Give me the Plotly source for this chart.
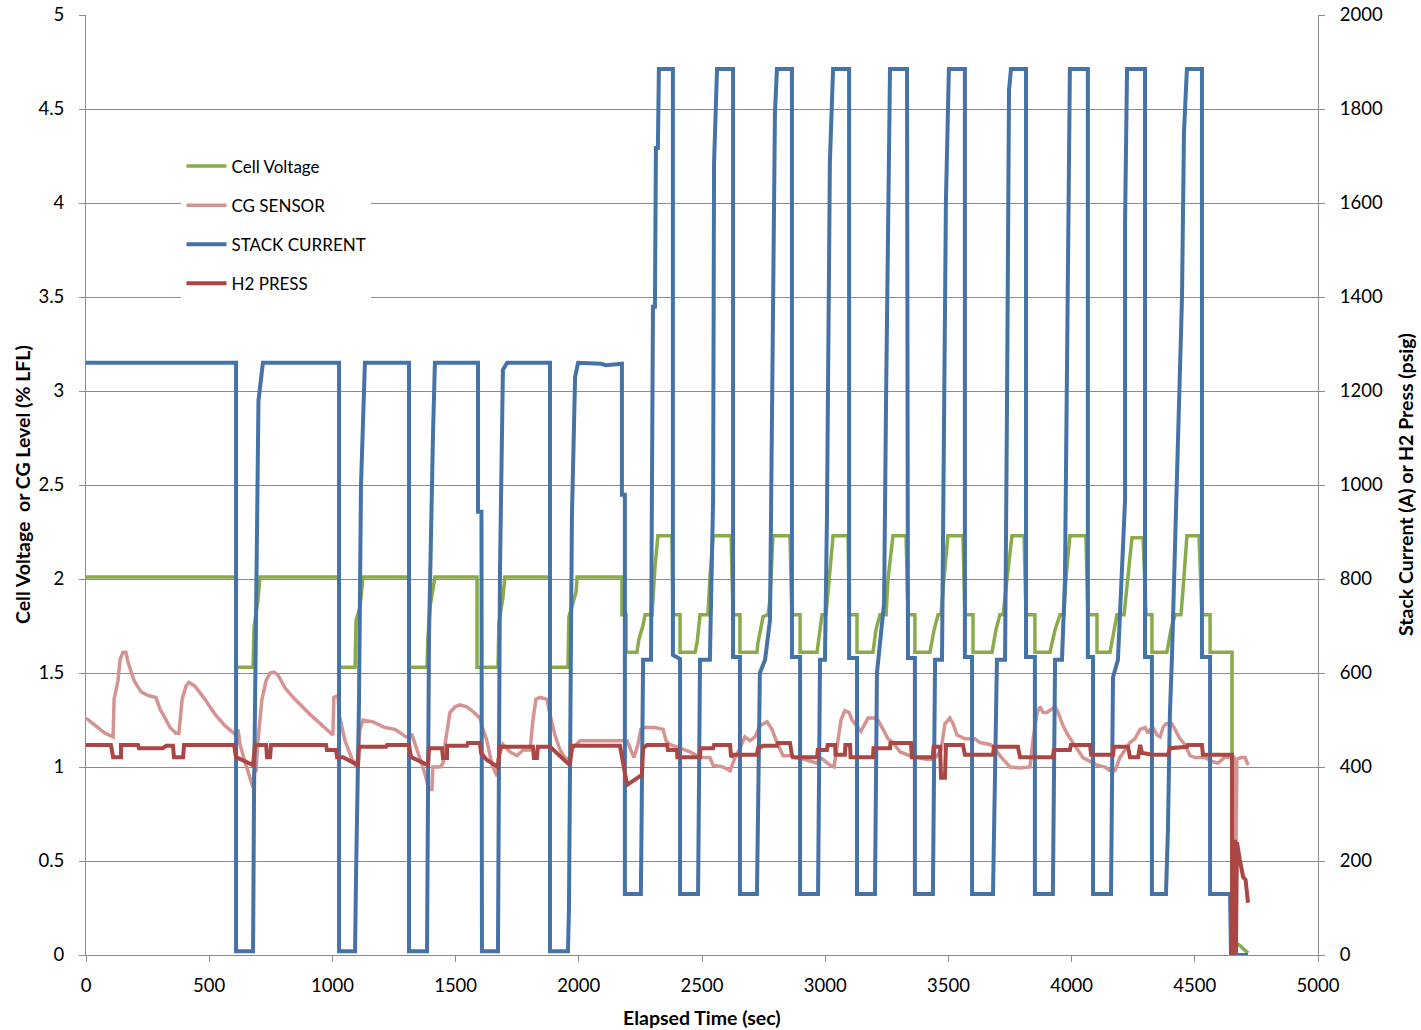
import plotly.graph_objects as go

# ---------------- data ----------------
# Cell Voltage (left axis, V)
voltage_points = [
    (0, 2.01), (609, 2.01), (609, 1.53), (678, 1.53), (682, 1.745), (698, 1.89), (706, 2.01),
    (1027, 2.01), (1027, 1.53), (1092, 1.53), (1096, 1.78), (1112, 1.85), (1124, 2.01),
    (1311, 2.01), (1311, 1.53), (1384, 1.53), (1388, 1.69), (1396, 1.85), (1416, 2.01),
    (1587, 2.01), (1587, 1.53), (1672, 1.53), (1676, 1.77), (1692, 1.90), (1700, 2.01),
    (1883, 2.01), (1883, 1.53), (1956, 1.53), (1960, 1.80), (1989, 1.93), (1993, 2.01),
    (2175, 2.01), (2175, 1.81), (2192, 1.81), (2192, 1.61),
    (2236, 1.61), (2244, 1.68), (2261, 1.755), (2269, 1.81), (2297, 1.81), (2309, 2.06), (2321, 2.23),
    (2378, 2.23), (2382, 1.81), (2411, 1.81), (2411, 1.61),
    (2472, 1.61), (2480, 1.66), (2492, 1.81), (2524, 1.81), (2532, 2.00), (2545, 2.23),
    (2618, 2.23), (2626, 1.81), (2654, 1.81), (2654, 1.61),
    (2723, 1.61), (2727, 1.66), (2748, 1.80), (2768, 1.81), (2776, 1.89), (2788, 2.23),
    (2857, 2.23), (2865, 1.81), (2898, 1.81), (2898, 1.61),
    (2967, 1.61), (2975, 1.70), (2987, 1.81), (3003, 1.81), (3011, 1.94), (3032, 2.23),
    (3093, 2.23), (3097, 1.81), (3129, 1.81), (3129, 1.61),
    (3194, 1.61), (3206, 1.73), (3222, 1.81), (3247, 1.81), (3255, 2.00), (3275, 2.23),
    (3328, 2.23), (3336, 1.81), (3364, 1.81), (3364, 1.61),
    (3425, 1.61), (3442, 1.73), (3458, 1.81), (3470, 1.81), (3482, 2.00), (3498, 2.23),
    (3559, 2.23), (3567, 1.81), (3600, 1.81), (3600, 1.61),
    (3677, 1.61), (3693, 1.73), (3709, 1.81), (3722, 1.81), (3738, 2.00), (3758, 2.23),
    (3807, 2.23), (3815, 1.81), (3851, 1.81), (3851, 1.61),
    (3912, 1.61), (3933, 1.73), (3953, 1.81), (3969, 1.81), (3977, 2.00), (3993, 2.23),
    (4058, 2.23), (4066, 1.81), (4103, 1.81), (4103, 1.61),
    (4156, 1.61), (4172, 1.73), (4184, 1.81), (4213, 1.81), (4229, 2.00), (4245, 2.22),
    (4290, 2.22), (4302, 1.81), (4326, 1.81), (4326, 1.61),
    (4387, 1.61), (4403, 1.73), (4420, 1.81), (4444, 1.81), (4452, 1.94), (4468, 2.23),
    (4517, 2.23), (4529, 1.81), (4562, 1.81), (4562, 1.61), (4651, 1.61),
    (4651, 0.08), (4683, 0.05), (4716, 0.01),
]

# CG SENSOR (left axis, % LFL)
cg_points = [
    (0, 1.26), (37, 1.22), (77, 1.18), (110, 1.16), (114, 1.36), (130, 1.46), (138, 1.57), (150, 1.61),
    (162, 1.61), (170, 1.56), (195, 1.46), (223, 1.40), (252, 1.38), (284, 1.37), (300, 1.31),
    (325, 1.25), (341, 1.21), (365, 1.18), (377, 1.18), (390, 1.36), (406, 1.43), (418, 1.45),
    (442, 1.43), (483, 1.36), (524, 1.28), (564, 1.22), (597, 1.18), (609, 1.17), (617, 1.20),
    (625, 1.12), (649, 1.01), (678, 0.89), (682, 0.97), (690, 0.98), (698, 1.14), (714, 1.36),
    (731, 1.46), (747, 1.50), (763, 1.505), (779, 1.49), (808, 1.42), (848, 1.36), (909, 1.28),
    (970, 1.21), (1002, 1.17), (1006, 1.37), (1023, 1.38), (1027, 1.28), (1051, 1.14), (1080, 1.04),
    (1096, 1.00), (1104, 1.06), (1112, 1.20), (1124, 1.25), (1165, 1.24), (1213, 1.21), (1254, 1.20),
    (1299, 1.16), (1323, 1.17), (1331, 1.14), (1351, 1.06), (1372, 0.98), (1392, 0.88), (1404, 0.88),
    (1408, 1.00), (1437, 1.00), (1449, 1.02), (1457, 1.12), (1477, 1.29), (1498, 1.32), (1518, 1.33),
    (1546, 1.32), (1575, 1.29), (1599, 1.26), (1611, 1.20), (1627, 1.14), (1648, 1.01), (1668, 0.95),
    (1672, 1.04), (1692, 1.12), (1721, 1.08), (1749, 1.06), (1774, 1.09), (1802, 1.09), (1814, 1.25),
    (1826, 1.36), (1843, 1.37), (1871, 1.36), (1883, 1.28), (1903, 1.17), (1924, 1.09), (1944, 1.05),
    (1964, 1.04), (1976, 1.10), (2005, 1.14), (2086, 1.14), (2147, 1.14), (2196, 1.14), (2208, 1.10),
    (2224, 1.05), (2240, 1.12), (2252, 1.20), (2269, 1.21), (2309, 1.21), (2342, 1.20), (2354, 1.14),
    (2370, 1.12), (2411, 1.10), (2451, 1.08), (2492, 1.05), (2532, 1.05), (2545, 1.01), (2585, 1.00),
    (2614, 0.98), (2634, 1.05), (2654, 1.10), (2674, 1.16), (2695, 1.14), (2715, 1.16), (2735, 1.22),
    (2764, 1.24), (2784, 1.20), (2804, 1.13), (2829, 1.06), (2857, 1.06), (2877, 1.05), (2918, 1.04),
    (2967, 1.02), (2979, 1.05), (2991, 1.04), (3019, 1.01), (3036, 1.00), (3048, 1.12), (3064, 1.25),
    (3080, 1.30), (3097, 1.29), (3109, 1.25), (3129, 1.22), (3145, 1.19), (3157, 1.22), (3174, 1.26),
    (3198, 1.26), (3214, 1.25), (3235, 1.20), (3255, 1.15), (3275, 1.13), (3304, 1.08), (3344, 1.06),
    (3385, 1.05), (3413, 1.04), (3437, 1.04), (3454, 1.06), (3470, 1.09), (3486, 1.23), (3506, 1.26),
    (3519, 1.23), (3535, 1.17), (3567, 1.15), (3608, 1.15), (3628, 1.13), (3669, 1.12), (3689, 1.10),
    (3709, 1.06), (3730, 1.03), (3750, 1.00), (3791, 0.995), (3831, 1.00), (3843, 1.14), (3860, 1.29),
    (3872, 1.32), (3884, 1.29), (3900, 1.29), (3912, 1.30), (3933, 1.32), (3945, 1.29), (3965, 1.22),
    (3985, 1.17), (4006, 1.13), (4026, 1.09), (4046, 1.05), (4075, 1.03), (4103, 1.01), (4136, 1.00),
    (4156, 0.98), (4176, 0.98), (4196, 1.05), (4217, 1.09), (4237, 1.13), (4257, 1.15), (4278, 1.20),
    (4298, 1.21), (4310, 1.18), (4318, 1.20), (4330, 1.21), (4347, 1.17), (4359, 1.16), (4371, 1.21),
    (4383, 1.23), (4407, 1.23), (4424, 1.19), (4440, 1.15), (4460, 1.12), (4481, 1.06), (4501, 1.05),
    (4542, 1.05), (4570, 1.03), (4594, 1.02), (4619, 1.05), (4643, 1.05), (4659, 1.05), (4667, 0.56),
    (4671, 1.04), (4687, 1.05), (4704, 1.05), (4716, 1.01),
]

# STACK CURRENT (right axis, A)
current_points = [
    (0, 1260), (609, 1260), (609, 8), (678, 8), (682, 345), (690, 800), (700, 1180), (718, 1260),
    (1027, 1260), (1027, 8), (1092, 8), (1096, 170), (1108, 540), (1116, 998), (1132, 1260),
    (1311, 1260), (1311, 8), (1384, 8), (1388, 277), (1392, 677), (1408, 1100), (1416, 1260),
    (1591, 1260), (1591, 943), (1605, 943), (1607, 8), (1672, 8), (1680, 813), (1692, 1245), (1709, 1260),
    (1883, 1260), (1883, 8), (1956, 8), (1960, 96), (1972, 930), (1985, 1230), (1997, 1260),
    (2090, 1258), (2110, 1255), (2150, 1256), (2175, 1258), (2175, 979), (2187, 979), (2187, 130),
    (2252, 130), (2261, 628), (2293, 628), (2301, 1379), (2309, 1379), (2313, 1717), (2321, 1717), (2325, 1885),
    (2382, 1885), (2382, 638), (2411, 630), (2411, 130),
    (2484, 130), (2492, 628), (2532, 628), (2545, 968), (2549, 1685), (2561, 1885),
    (2626, 1885), (2626, 634), (2654, 634), (2654, 130),
    (2723, 130), (2735, 600), (2756, 628), (2776, 713), (2788, 1419), (2796, 1789), (2804, 1885),
    (2865, 1885), (2865, 634), (2898, 634), (2898, 130),
    (2971, 130), (2979, 628), (2999, 628), (3007, 925), (3019, 1687), (3032, 1885),
    (3097, 1885), (3097, 632), (3129, 632), (3129, 130),
    (3202, 130), (3210, 600), (3239, 749), (3247, 1181), (3255, 1560), (3263, 1885),
    (3332, 1885), (3336, 632), (3364, 632), (3364, 130),
    (3437, 130), (3446, 628), (3474, 628), (3478, 936), (3490, 1606), (3502, 1885),
    (3567, 1885), (3567, 634), (3596, 634), (3596, 130),
    (3681, 130), (3697, 628), (3730, 628), (3738, 1181), (3746, 1840), (3754, 1885),
    (3815, 1885), (3815, 634), (3851, 634), (3851, 130),
    (3924, 130), (3933, 628), (3961, 628), (3973, 798), (3985, 1606), (3993, 1885),
    (4066, 1885), (4066, 634), (4087, 634), (4087, 130),
    (4160, 130), (4168, 591), (4188, 628), (4217, 968), (4217, 1560), (4225, 1885),
    (4298, 1885), (4298, 634), (4326, 634), (4326, 130),
    (4383, 130), (4391, 266), (4399, 515), (4407, 628), (4423, 932), (4448, 1398), (4456, 1749), (4468, 1885),
    (4529, 1885), (4529, 634), (4562, 634), (4562, 130), (4643, 130), (4647, 0), (4716, 0),
]

# H2 PRESS (right axis, psig)
press_points = [
    (0, 447), (101, 447), (110, 421), (142, 421), (142, 447), (211, 447), (215, 440), (312, 440),
    (325, 445), (353, 445), (357, 421), (394, 421), (398, 447), (601, 447), (609, 421), (678, 404),
    (686, 447), (731, 447), (735, 421), (747, 421), (751, 447), (974, 447), (978, 436), (1015, 436),
    (1019, 421), (1043, 421), (1104, 404), (1108, 443), (1218, 443), (1222, 447), (1311, 447),
    (1319, 421), (1388, 404), (1392, 440), (1445, 440), (1449, 419), (1465, 419), (1465, 445),
    (1546, 445), (1550, 451), (1599, 451), (1603, 430), (1627, 415), (1672, 400), (1680, 443),
    (1814, 443), (1818, 419), (1830, 419), (1834, 443), (1883, 443), (1964, 404), (1972, 445),
    (2167, 445), (2196, 362), (2256, 383), (2261, 440), (2277, 447), (2358, 447), (2362, 436),
    (2398, 436), (2400, 421), (2492, 421), (2494, 440), (2545, 440), (2549, 447), (2614, 447),
    (2618, 421), (2626, 426), (2723, 426), (2727, 440), (2748, 445), (2804, 445), (2808, 451),
    (2857, 451), (2865, 426), (2869, 421), (2967, 421), (2970, 436), (3007, 436), (3010, 447),
    (3040, 447), (3042, 426), (3080, 426), (3082, 447), (3101, 447), (3103, 421), (3194, 421),
    (3196, 440), (3263, 440), (3265, 451), (3348, 451), (3352, 421), (3437, 421), (3440, 443),
    (3466, 443), (3470, 377), (3486, 377), (3490, 447), (3559, 447), (3567, 426), (3681, 426),
    (3685, 443), (3782, 443), (3791, 421), (3924, 421), (3928, 436), (3993, 436), (3997, 447),
    (4075, 447), (4079, 426), (4168, 426), (4172, 443), (4229, 443), (4237, 421), (4270, 421),
    (4278, 447), (4286, 430), (4330, 426), (4391, 426), (4399, 440), (4468, 443), (4472, 447),
    (4529, 447), (4533, 426), (4651, 426), (4651, 4), (4659, 4), (4663, 245), (4667, 4),
    (4671, 240), (4683, 202), (4696, 166), (4706, 160), (4716, 111),
]

voltage_time, voltage_value = zip(*voltage_points)
cg_time, cg_value = zip(*cg_points)
current_time, current_value = zip(*current_points)
press_time, press_value = zip(*press_points)

# axis tick values and titles
x_ticks = list(range(0, 5001, 500))
left_ticks = [0, 0.5, 1, 1.5, 2, 2.5, 3, 3.5, 4, 4.5, 5]
right_ticks = list(range(0, 2001, 200))
x_title = "Elapsed Time (sec)"
left_title = "Cell Voltage  or CG Level (% LFL)"
right_title = "Stack Current (A) or H2 Press (psig)"

# ---------------- figure ----------------
FONT = "Lato"
GRID = "#8c8c8c"
TICK_SIZE = 18.5
TITLE_SIZE = 19.5

fig = go.Figure()
fig.add_trace(go.Scatter(x=voltage_time, y=voltage_value, name="Cell Voltage", mode="lines",
                         line=dict(color="#8aab4b", width=3.5), legendgroup="a", yaxis="y"))
fig.add_trace(go.Scatter(x=cg_time, y=cg_value, name="CG SENSOR", mode="lines",
                         line=dict(color="#d59391", width=3.5), legendgroup="b", yaxis="y"))
fig.add_trace(go.Scatter(x=current_time, y=current_value, name="STACK CURRENT", mode="lines",
                         line=dict(color="#4572a7", width=4), legendgroup="c", yaxis="y2"))
fig.add_trace(go.Scatter(x=press_time, y=press_value, name="H2 PRESS", mode="lines",
                         line=dict(color="#aa4643", width=4), legendgroup="d", yaxis="y2"))

axis_common = dict(zeroline=False, showline=True, linecolor=GRID, linewidth=1,
                   ticks="outside", ticklen=6, tickcolor=GRID,
                   tickfont=dict(size=TICK_SIZE, color="#000000"), automargin=False)

fig.update_layout(
    width=1421, height=1030,
    margin=dict(l=86, r=103, t=15, b=75),
    paper_bgcolor="white", plot_bgcolor="white",
    font=dict(family=FONT, size=16, color="#000000"),
    showlegend=True,
    legend=dict(x=0.0775, y=0.858, xanchor="left", yanchor="top",
                bgcolor="white", borderwidth=0, tracegroupgap=14,
                font=dict(family=FONT, size=17, color="#000000"),
                itemwidth=40),
    xaxis=dict(range=[0, 5000], tickvals=x_ticks, showgrid=False, ticklabelstandoff=8, **axis_common),
    yaxis=dict(range=[0, 5], tickvals=left_ticks, showgrid=True, gridcolor=GRID, gridwidth=1,
               ticklabelstandoff=11, **axis_common),
    yaxis2=dict(range=[0, 2000], tickvals=right_ticks, overlaying="y", side="right",
                showgrid=False, ticklabelstandoff=11, **axis_common),
    annotations=[
        dict(text="<b>%s</b>" % x_title, xref="paper", yref="paper", x=0.5, y=0,
             xanchor="center", yanchor="middle", yshift=-62, showarrow=False,
             font=dict(size=TITLE_SIZE)),
        dict(text="<b>%s</b>" % left_title, xref="paper", yref="paper", x=0, y=0.5,
             xanchor="center", yanchor="middle", xshift=-64, textangle=-90, showarrow=False,
             font=dict(size=TITLE_SIZE)),
        dict(text="<b>%s</b>" % right_title, xref="paper", yref="paper", x=1, y=0.5,
             xanchor="center", yanchor="middle", xshift=87, textangle=-90, showarrow=False,
             font=dict(size=TITLE_SIZE)),
    ],
)

# remove the browser's default page margin so the 1421x1030 figure fills the window exactly
fig.write_html("out.html", config={"displayModeBar": False},
               post_script="document.body.style.margin='0';document.body.style.overflow='hidden';")
